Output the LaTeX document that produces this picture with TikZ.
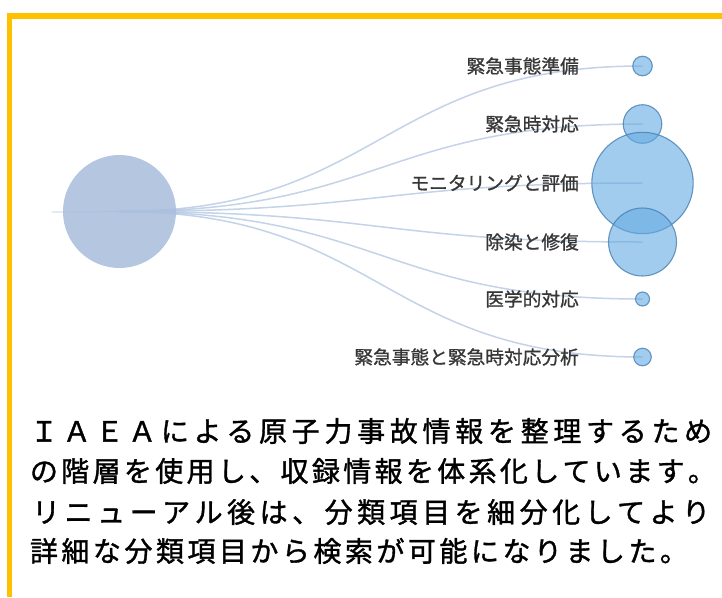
\documentclass[tikz,border=0pt]{standalone}
\usepackage{fontspec}
\newfontfamily\jpfont[FakeBold=1]{Noto Sans CJK JP}
\newfontfamily\jpbody[FakeBold=1.3]{Noto Sans CJK JP}
\def\spreadpitch{30pt}
\def\spreadtext#1#2{\def\spreadpitch{#1}\spreadloop#2\relax}
\def\spreadloop#1{\ifx#1\relax\else\makebox[\spreadpitch][c]{#1}\expandafter\spreadloop\fi}
\definecolor{frameyellow}{RGB}{255,192,0}
\definecolor{rootblue}{RGB}{180,198,224}
\definecolor{leafblue}{RGB}{100,170,225}
\definecolor{leafedge}{RGB}{70,128,180}
\definecolor{linkblue}{RGB}{170,192,222}
\definecolor{lblgray}{RGB}{55,55,55}
\pgfdeclarelayer{bottom}
\pgfdeclarelayer{mid}
\pgfsetlayers{bottom,mid,main}
\tikzset{
  rootnode/.style={circle, fill=rootblue, inner sep=0pt, outer sep=0pt, minimum size=113pt},
  leaf/.style={circle, draw=leafedge, line width=1.1pt, draw opacity=0.8, fill=leafblue, fill opacity=0.6, inner sep=0pt, outer sep=0pt},
  link/.style={draw=linkblue, line width=1.5pt, draw opacity=0.7},
  lbl/.style={anchor=base east, inner sep=0pt, text=lblgray, font=\jpfont\fontsize{18.7}{20}\selectfont},
  bodyline/.style={anchor=base west, inner sep=0pt, text=black, font=\jpbody\fontsize{28}{30}\selectfont}
}
\begin{document}
\begin{tikzpicture}[x=1pt,y=-1pt]
\useasboundingbox (0,0) rectangle (722,597);
\clip (0,0) rectangle (722,597);
% frame
\fill[frameyellow] (7,12.7) rectangle (722,19);
\fill[frameyellow] (7,12.7) rectangle (12,597);
% root
\begin{pgfonlayer}{bottom}
\node[rootnode] (root) at (119.5,211.5) {};
\end{pgfonlayer}
% leaves
\node[leaf, minimum size=19.6pt] (c1) at (642.5,66) {};
\node[leaf, minimum size=38.6pt] (c2) at (642.5,124) {};
\node[leaf, minimum size=101.4pt] (c3) at (642.5,183) {};
\node[leaf, minimum size=68pt] (c4) at (642.5,242) {};
\node[leaf, minimum size=14pt] (c5) at (642.5,299) {};
\node[leaf, minimum size=17.6pt] (c6) at (642.5,357) {};
\coordinate (src) at (52,212);
% links
\begin{pgfonlayer}{mid}
\draw[link, line width=1.2pt, draw opacity=0.5] (src) -- (root.center);
\draw[link] (root.center) .. controls (381,211.5) and (381,66) .. (c1.center);
\draw[link] (root.center) .. controls (381,211.5) and (381,124) .. (c2.center);
\draw[link] (root.center) .. controls (381,211.5) and (381,183) .. (c3.center);
\draw[link] (root.center) .. controls (381,211.5) and (381,242) .. (c4.center);
\draw[link] (root.center) .. controls (381,211.5) and (381,299) .. (c5.center);
\draw[link] (root.center) .. controls (381,211.5) and (381,357) .. (c6.center);
\end{pgfonlayer}
% labels
\node[lbl] (l1) at (579,73.1) {緊急事態準備};
\node[lbl] (l2) at (579,131.1) {緊急時対応};
\node[lbl] (l3) at (579,190.1) {モニタリングと評価};
\node[lbl] (l4) at (579,249.1) {除染と修復};
\node[lbl] (l5) at (579,306.1) {医学的対応};
\node[lbl] (l6) at (579,364.1) {緊急事態と緊急時対応分析};
% body text
\node[bodyline] (t1) at (27.6,441.6) {\spreadtext{32.7pt}{ＩＡＥＡによる原子力事故情報を整理するため}};
\node[bodyline] (t2) at (28.1,481.6) {\spreadtext{31.33pt}{の階層を使用し、収録情報を体系化しています。}};
\node[bodyline] (t3) at (29.7,522.6) {\spreadtext{32.5pt}{リニューアル後は、分類項目を細分化してより}};
\node[bodyline] (t4) at (28.0,561.6) {\spreadtext{31.5pt}{詳細な分類項目から検索が可能になりました。}};
\end{tikzpicture}
\end{document}
